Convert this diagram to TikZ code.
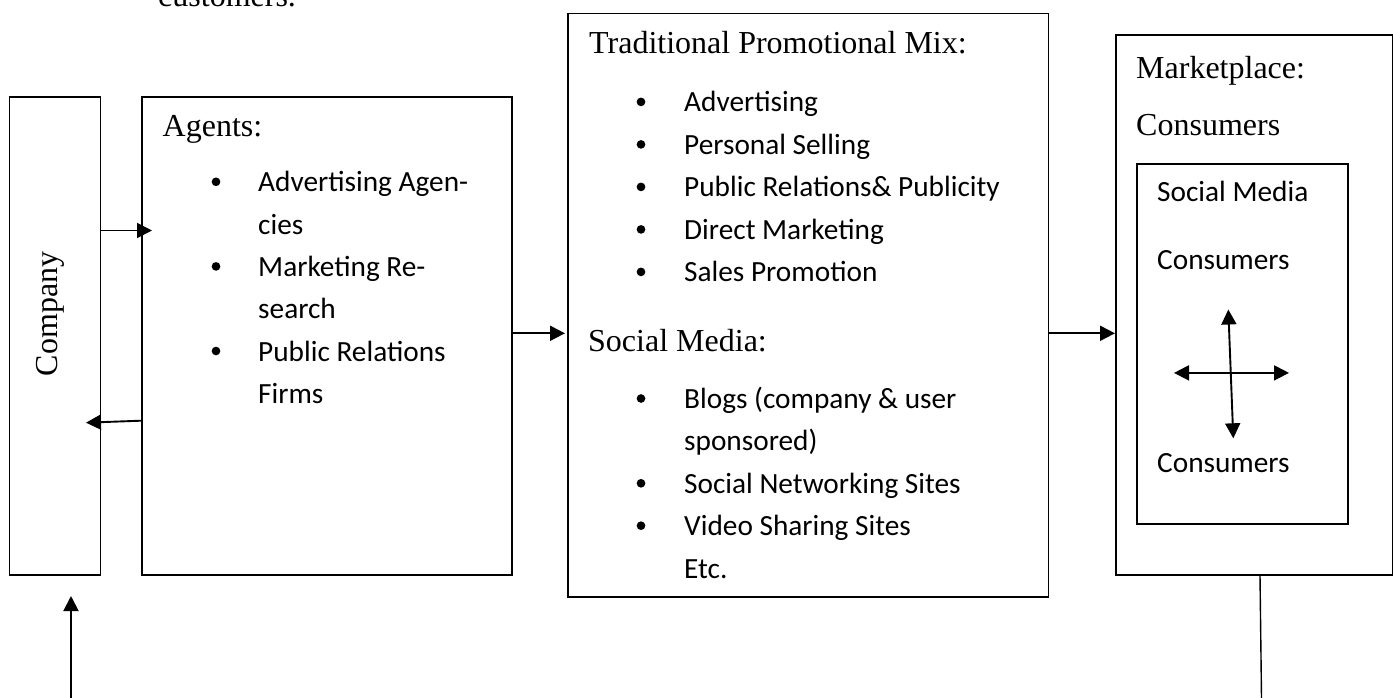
\documentclass[tikz,border=0pt]{standalone}
\usepackage{fontspec}
\setmainfont{Liberation Serif}
\newfontfamily\calibrifont{Carlito}
\usetikzlibrary{arrows.meta}
\begin{document}
\begin{tikzpicture}[x=1pt,y=-1pt,
  box/.style={draw,line width=1.8pt,inner sep=0pt,anchor=north west},
  serif/.style={anchor=base west,inner sep=0pt,font=\fontsize{32}{38}\selectfont},
  sans/.style={anchor=base west,inner sep=0pt,font=\calibrifont\fontsize{29.3}{35}\selectfont},
  bul/.style={circle,fill,inner sep=0pt,minimum size=8.7pt},
  arr/.style={line width=1.9pt,-{Triangle[length=15pt,width=15pt]}},
  darr/.style={line width=1.9pt,{Triangle[length=15pt,width=15pt]}-{Triangle[length=15pt,width=15pt]}},
  plain/.style={line width=1.4pt}]
\useasboundingbox (0,0) rectangle (1393,698);

% boxes
\node[box,minimum width=91pt,minimum height=477.7pt] (company) at (8.5,96) {};
\node[box,minimum width=370pt,minimum height=477.7pt] (agents) at (141,96) {};
\node[box,minimum width=480.5pt,minimum height=583.3pt] (trad) at (567,12.7) {};
\node[box,minimum width=276.5pt,minimum height=539.7pt] (market) at (1115,34) {};
\node[box,minimum width=210.7pt,minimum height=359.6pt] (inner) at (1136,163.3) {};

% top cut-off text
\node[serif] (cust) at (158,7) {customers.};

% company label
\node[rotate=90,anchor=base,inner sep=0pt,font=\fontsize{32}{38}\selectfont] (comptxt) at (57.5,314) {Company};

% agents
\node[serif] (agtitle) at (162.5,137) {Agents:};
\node[sans] (ag1) at (258,191.8) {Advertising Agen-};
\node[sans] (ag2) at (258,234.1) {cies};
\node[sans] (ag3) at (258,276.4) {Marketing Re-};
\node[sans] (ag4) at (258,318.7) {search};
\node[sans] (ag5) at (258,361) {Public Relations};
\node[sans] (ag6) at (258,403.3) {Firms};
\node[bul] (agb1) at (216,181.8) {};
\node[bul] (agb2) at (216,266.4) {};
\node[bul] (agb3) at (216,351) {};

% traditional promotional mix
\node[serif] (trtitle) at (589,54) {Traditional Promotional Mix:};
\foreach \t [count=\i from 0] in {Advertising,Personal Selling,Public Relations\& Publicity,Direct Marketing,Sales Promotion}{
  \node[sans] (tr\i) at (684,111.9+42.5*\i) {\t};
  \node[bul] (trb\i) at (641,101.9+42.5*\i) {};
}
\node[serif] (smtitle) at (588,351) {Social Media:};
\node[sans] (sm0) at (684,408.5) {Blogs (company \& user};
\node[sans] (sm1) at (684,450.9) {sponsored)};
\node[sans] (sm2) at (684,493.3) {Social Networking Sites};
\node[sans] (sm3) at (684,535.7) {Video Sharing Sites};
\node[sans] (sm4) at (684,578.1) {Etc.};
\node[bul] (smb0) at (641,398.5) {};
\node[bul] (smb2) at (641,483.3) {};
\node[bul] (smb3) at (641,525.7) {};

% marketplace
\node[serif] (mktitle) at (1136,78.7) {Marketplace:};
\node[serif] (mkcons) at (1136,135.6) {Consumers};
\node[sans] (insm) at (1157,201.8) {Social Media};
\node[sans] (incons1) at (1157,269) {Consumers};
\node[sans] (incons2) at (1157,472.9) {Consumers};

% connectors
\coordinate (ca) at (152,230.5);
\draw[arr] (company.east |- ca) -- (ca);
\coordinate (ac) at (86,422.7);
\draw[arr] (agents.west |- 0,420.7) -- (ac);
\draw[arr] (agents.east |- 0,333.3) -- ([xshift=-2pt]trad.west |- 0,333.3);
\draw[arr] (trad.east |- 0,333.3) -- (market.west |- 0,333.3);

% cross inside social media box
\coordinate (vt) at (1228.3,309.5);
\coordinate (vb) at (1233.3,438.3);
\coordinate (hl) at (1174,372.9);
\coordinate (hr) at (1289,372.9);
\draw[darr] (vt) -- (vb);
\draw[darr] (hl) -- (hr);

% bottom connectors
\coordinate (ub) at (71,698);
\coordinate (ut) at (71,596);
\draw[arr] (ub) -- (ut);
\coordinate (mb) at (1261.5,698);
\draw[plain] (1260,0 |- market.south) -- (mb);
\end{tikzpicture}
\end{document}
